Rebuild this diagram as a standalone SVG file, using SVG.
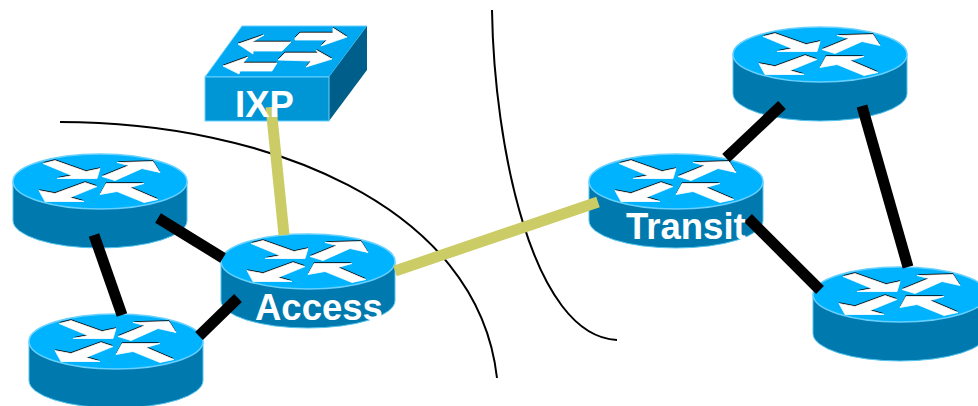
<svg xmlns="http://www.w3.org/2000/svg" xmlns:xlink="http://www.w3.org/1999/xlink" width="978" height="406" viewBox="0 0 978 406">
<style>
.side{fill:#007aae;stroke:#55c4f0;stroke-width:1}
.top{fill:#00b3ff;stroke:#66d0ff;stroke-width:1.5}
.w{fill:#fff;stroke:#fff;stroke-width:.8}.k{fill:#000}
.blk{stroke:#000;stroke-width:11;fill:none}
.yel{stroke:#cccc66;stroke-width:11;fill:none}
.arc{stroke:#000;stroke-width:2;fill:none}
.lbl{font-family:"Liberation Sans",Arial,sans-serif;font-weight:700;font-size:36.5px;fill:#fff}
</style>
<defs>
<g id="arrows">
<polygon points="-57,-18 -45,-21 -14,-10 0,-13 -3,-3 -43,-3 -28,-6"/>
<polygon points="2,-5 29,-16 17,-19 53,-20 60,-9 42,-13 15,-1"/>
<polygon points="-61,9 -45,12 -15,1 -3,5 -30,16 -16,20 -55,20"/>
<polygon points="0,13 6,2 44,2 30,6 58,18 44,21 17,10"/>
</g>
<g id="router">
<path class="side" d="M-87,0V39A87,27.5 0 0 0 87,39V0Z"/>
<ellipse class="top" rx="87" ry="27.5"/>
<use xlink:href="#arrows" href="#arrows" class="k" y="-1.2"/>
<use xlink:href="#arrows" href="#arrows" class="w"/>
</g>
<g id="swarrows">
<polygon points="238,44 264,35 252,42 291,42 282,51 253,51 253,54"/>
<polygon points="295,38 300,33 333,33 333,28 347,37 321,46 327,40 295,40"/>
<polygon points="223,66 248,57 243,63 277,63 272,71 240,71 239,74"/>
<polygon points="278,60 285,53 318,53 316,50 332,59 306,67 311,61"/>
</g>
</defs>
<path class="arc" d="M60,122C265,122 478,205 497,378"/>
<path class="arc" d="M492,10C494,145 532,336 617,340"/>
<g id="ixp">
<polygon points="205,77 242,26 367,26 329,77" fill="#00a8f2" stroke="#66d0ff"/>
<polygon points="329,77 367,26 367,70 329,121" fill="#005f8a"/>
<rect x="205" y="77" width="124" height="44" fill="#0096d6" stroke="#66d0ff"/>
<use xlink:href="#swarrows" href="#swarrows" class="k" y="-1.2"/>
<use xlink:href="#swarrows" href="#swarrows" class="w"/>
</g>
<g id="router-left-upper"><use xlink:href="#router" href="#router" x="100" y="181.5"/></g>
<g id="router-left-lower"><use xlink:href="#router" href="#router" x="116" y="341.5"/></g>
<g id="router-access"><use xlink:href="#router" href="#router" x="308" y="261.5"/></g>
<g id="router-transit"><use xlink:href="#router" href="#router" x="676" y="181.5"/></g>
<g id="router-right-upper"><use xlink:href="#router" href="#router" x="820" y="54.5"/></g>
<g id="router-right-lower"><use xlink:href="#router" href="#router" x="900" y="294.5"/></g>
<g id="connectors">
<line class="blk" x1="158" y1="218" x2="223" y2="258"/>
<line class="blk" x1="94" y1="235" x2="122" y2="315"/>
<line class="blk" x1="199" y1="336" x2="238" y2="298"/>
<line class="blk" x1="726" y1="158" x2="782" y2="105"/>
<line class="blk" x1="862" y1="106" x2="908" y2="267"/>
<line class="blk" x1="748" y1="218" x2="820" y2="290"/>
<line class="yel" x1="271" y1="107" x2="284" y2="235"/>
<line class="yel" x1="395" y1="271" x2="598" y2="202"/>
</g>
<g id="labels">
<text class="lbl" x="235" y="117">IXP</text>
<text class="lbl" x="255" y="320">Access</text>
<text class="lbl" x="626" y="239">Transit</text>
</g>
</svg>
